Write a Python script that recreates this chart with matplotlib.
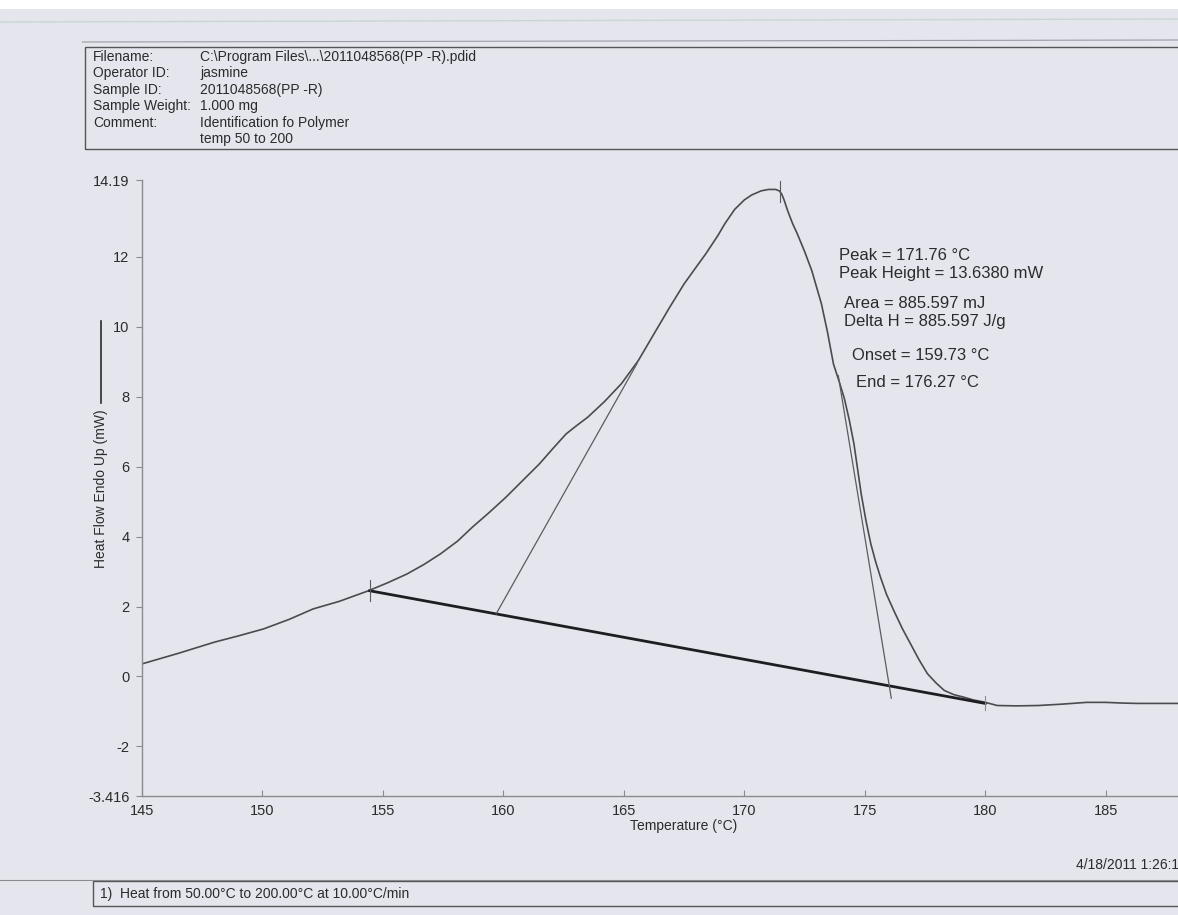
import matplotlib.pyplot as plt
from matplotlib.patches import Rectangle
from matplotlib.lines import Line2D

plt.rcParams['font.family'] = ['Liberation Sans', 'DejaVu Sans']

# DSC melting endotherm (Temperature in °C, heat flow in mW)
temperature = [145.0, 146.5, 148.0, 149.0, 150.05, 151.1, 152.1, 153.2, 154.4,
               155.2, 156.0, 156.7, 157.4, 158.1, 158.7, 159.4, 160.1, 160.8,
               161.5, 162.1, 162.6, 163.0, 163.5, 164.2, 164.9, 165.6, 166.3,
               166.9, 167.5, 168.0, 168.4, 168.9, 169.2, 169.6, 170.0, 170.3,
               170.7, 171.0, 171.3, 171.45, 171.55, 171.65, 171.8, 172.0,
               172.2, 172.5, 172.8, 173.2, 173.45, 173.7, 173.95, 174.15,
               174.35, 174.55, 174.85, 175.05, 175.25, 175.45, 175.65, 175.9,
               176.2, 176.55, 176.9, 177.25, 177.6, 177.95, 178.3, 178.7, 179.1,
               179.5, 179.95, 180.5, 181.3, 182.2, 183.2, 184.2, 185.0, 185.7,
               186.3, 187.2, 188.0]
heat_flow = [0.36, 0.66, 0.98, 1.16, 1.36, 1.63, 1.93, 2.15, 2.45,
             2.68, 2.93, 3.2, 3.51, 3.87, 4.26, 4.68, 5.12, 5.6,
             6.08, 6.55, 6.93, 7.15, 7.41, 7.86, 8.37, 9.03, 9.85,
             10.55, 11.22, 11.7, 12.08, 12.6, 12.95, 13.35, 13.62, 13.76,
             13.88, 13.92, 13.92, 13.88, 13.79, 13.62, 13.31, 12.95,
             12.65, 12.15, 11.6, 10.65, 9.85, 8.93, 8.4, 7.95,
             7.35, 6.65, 5.22, 4.45, 3.79, 3.28, 2.84, 2.35,
             1.89, 1.38, 0.93, 0.48, 0.08, -0.18, -0.40, -0.52, -0.59,
             -0.67, -0.73, -0.83, -0.84, -0.83, -0.79, -0.74, -0.74, -0.76,
             -0.77, -0.77, -0.77]

# integration baseline and the two tangents
baseline_t = [154.45, 180.0]
baseline_hf = [2.45, -0.77]
onset_t = [159.7, 165.55]
onset_hf = [1.79, 8.95]
end_t = [173.9, 176.1]
end_hf = [8.6, -0.62]
peak_mark_t = 171.5

xticks = [145, 150, 155, 160, 165, 170, 175, 180, 185]
yticks = [-3.416, -2, 0, 2, 4, 6, 8, 10, 12, 14.19]
ytick_labels = ['-3.416', '-2', '0', '2', '4', '6', '8', '10', '12', '14.19']

header_keys = ['Filename:', 'Operator ID:', 'Sample ID:', 'Sample Weight:', 'Comment:', '']
header_vals = ['C:\\Program Files\\...\\2011048568(PP -R).pdid', 'jasmine',
               '2011048568(PP -R)', '1.000 mg', 'Identification fo Polymer',
               'temp 50 to 200']

results = ['Peak = 171.76 °C', 'Peak Height = 13.6380 mW',
           'Area = 885.597 mJ', 'Delta H = 885.597 J/g',
           'Onset = 159.73 °C', 'End = 176.27 °C']

W, H = 1178, 915
paper = '#e5e6ed'
ink = '#2b2b2b'


def px(x, y):
    return x / W, 1 - y / H


fig = plt.figure(figsize=(W / 100, H / 100), dpi=100, facecolor=paper)

# white strip at the top edge of the scan
fig.patches.append(Rectangle(px(0, 9), 1, 9 / H, transform=fig.transFigure,
                             facecolor='white', edgecolor='none'))
fig.add_artist(Line2D([0, 1], [px(0, 22)[1], px(0, 19)[1]], color='#c9d6d6', lw=1))
fig.add_artist(Line2D([0.07, 1], [px(0, 42)[1], px(0, 40)[1]], color='#9a9aa2', lw=0.8))

# header box
x0, y0 = px(85, 149)
fig.patches.append(Rectangle((x0, y0), 1 - x0 + 0.01, (149 - 47) / H,
                             transform=fig.transFigure, facecolor='none',
                             edgecolor='#555555', lw=1))
for i, (k, v) in enumerate(zip(header_keys, header_vals)):
    yy = 57 + i * 16.4
    fig.text(*px(93, yy), k, fontsize=10, color=ink, va='center')
    fig.text(*px(200, yy), v, fontsize=10, color=ink, va='center')

# main axes
left, top = px(142, 180)
right, bottom = px(W, 796)
ax = fig.add_axes([left, bottom, right - left, top - bottom])
ax.set_facecolor('none')

ax.plot(temperature, heat_flow, color='#4a4a4f', lw=1.2)
ax.plot(baseline_t, baseline_hf, color='#1e1e22', lw=2)
ax.plot(onset_t, onset_hf, color='#5a5a60', lw=0.9)
ax.plot(end_t, end_hf, color='#5a5a60', lw=0.9)
# analysis markers
ax.plot([baseline_t[0]] * 2, [baseline_hf[0] - 0.3, baseline_hf[0] + 0.3], color='#5a5a60', lw=0.8)
ax.plot([baseline_t[1]] * 2, [baseline_hf[1] - 0.2, baseline_hf[1] + 0.2], color='#8a8a90', lw=0.8)
ax.plot([peak_mark_t] * 2, [13.55, 14.15], color='#5a5a60', lw=0.8)

ax.set_xlim(145, 188)
ax.set_ylim(-3.416, 14.19)
ax.set_xticks(xticks)
ax.set_yticks(yticks)
ax.set_yticklabels(ytick_labels)
ax.tick_params(axis='x', direction='in', length=4, pad=6, labelsize=10.5,
               colors='#8a8a90', labelcolor=ink)
ax.tick_params(axis='y', direction='out', length=4, pad=5, labelsize=10.5,
               colors='#8a8a90', labelcolor=ink)
for side in ['top', 'right']:
    ax.spines[side].set_visible(False)
for side in ['left', 'bottom']:
    ax.spines[side].set_color('#8a8a90')
    ax.spines[side].set_linewidth(1)

# result annotations
res_pos = [(839, 255), (839, 273), (844, 303), (844, 321), (852, 355), (856, 382)]
for txt, (xx, yy) in zip(results, res_pos):
    fig.text(*px(xx, yy), txt, fontsize=12, color=ink, va='center')

# axis titles
fig.text(*px(684, 826), 'Temperature (°C)', fontsize=10, color=ink,
         ha='center', va='center')
fig.text(*px(101, 489), 'Heat Flow Endo Up (mW)', fontsize=10, color=ink,
         ha='center', va='center', rotation=90)
fig.add_artist(Line2D([px(101, 0)[0]] * 2, [px(0, 403)[1], px(0, 321)[1]],
                      color=ink, lw=1.2))

# date stamp and method footer
fig.text(*px(1076, 865), '4/18/2011 1:26:1', fontsize=10, color=ink, va='center')
fx0, fy0 = px(93, 906)
fig.patches.append(Rectangle((fx0, fy0), 1 - fx0 + 0.01, 25 / H,
                             transform=fig.transFigure, facecolor='none',
                             edgecolor='#555555', lw=1))
fig.add_artist(Line2D([0, 1], [px(0, 880)[1]] * 2, color='#8a8a90', lw=0.8))
fig.text(*px(100, 894), '1)  Heat from 50.00°C to 200.00°C at 10.00°C/min',
         fontsize=10, color=ink, va='center')

fig.savefig('out.png', dpi=100, facecolor=paper)
